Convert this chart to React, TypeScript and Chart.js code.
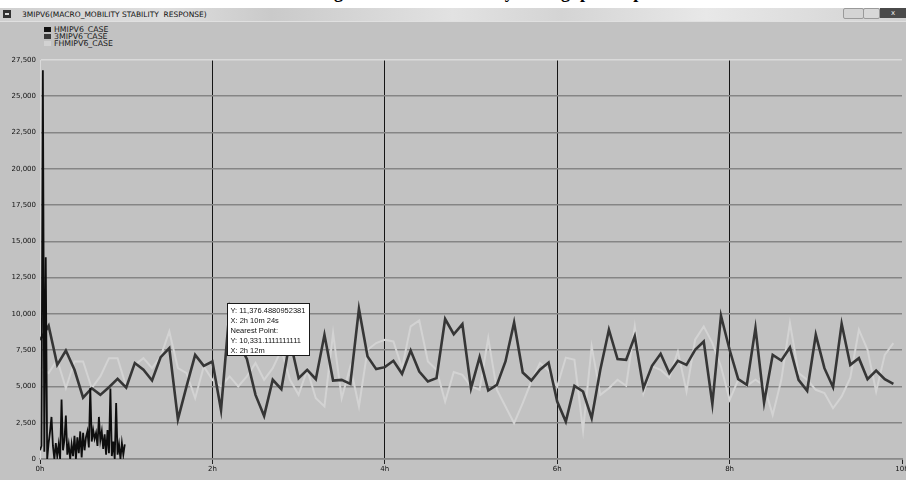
import React, { useEffect, useRef } from "react";
import { Chart, registerables } from "chart.js";

Chart.register(...registerables);

// ---- data ----
const seriesNames = ["HMIPV6_CASE", "3MIPV6_CASE", "FHMIPV6_CASE"];
const windowTitle = "3MIPV6(MACRO_MOBILITY STABILITY  RESPONSE)";
const captionText = "Figure 6: Macro Mobility throughput response";

// 3MIPV6 / FHMIPV6 sampled every 0.1 h (6 min), from 0h to 9.9h
const sampleStepHours = 0.1;
const mipv6Values = [
  8200, 9185, 6490, 7480, 6150, 4230, 4880, 4420, 4950, 5525,
  4925, 6610, 6150, 5410, 7020, 7640, 2740, 5000, 7180, 6420,
  6720, 3380, 10331, 8000, 6900, 4420, 2970, 5460, 4810, 8200,
  5570, 6150, 5500, 8560, 5410, 5455, 5180, 10340, 7065, 6195,
  6330, 6770, 5870, 7480, 6030, 5340, 5570, 9650, 8600, 9300,
  4880, 7020, 4720, 5110, 6720, 9410, 5960, 5410, 6150, 6650,
  3960, 2580, 5040, 4650, 2810, 6150, 8910, 6885, 6840, 8450,
  4880, 6420, 7250, 5920, 6770, 6490, 7530, 8100, 3800, 9875,
  7530, 5500, 5110, 9020, 3890, 7180, 6790, 7690, 5455, 4700,
  8560, 6260, 4950, 9320, 6490, 6950, 5500, 6100, 5500, 5180,
];
const fhmipv6Values = [
  6260, 5920, 6840, 4880, 6720, 6720, 4880, 5690, 6950, 6950,
  5000, 6490, 6950, 6260, 7070, 8790, 6260, 5920, 4190, 6380,
  5460, 5000, 5690, 5000, 5690, 6610, 5460, 6260, 7530, 5460,
  4420, 6150, 4190, 3620, 8680, 4190, 6380, 3620, 7530, 7990,
  8220, 8100, 6260, 9140, 9550, 6720, 6150, 3960, 6000, 5800,
  5000, 4770, 8330, 4770, 3620, 2470, 3850, 5340, 6610, 6100,
  5000, 6990, 6840, 1960, 7760, 4420, 4880, 5460, 5050, 9140,
  4540, 6380, 6150, 5600, 7410, 4650, 8220, 9140, 7990, 6380,
  4080, 5460, 5050, 5460, 5050, 3040, 5460, 9370, 5920, 5460,
  4770, 4540, 3500, 4310, 5580, 8910, 7530, 4650, 7180, 7990,
];
// HMIPV6 sampled every minute, 0 .. 59 min
const hmStepHours = 1 / 60;
const hmipv6Values = [
  600, 900, 26800, 500, 13900, 0, 1100, 1900, 2900, 900,
  0, 1100, 200, 1000, 0, 4100, 600, 1300, 3000, 300,
  1000, 0, 1000, 200, 1600, 0, 1500, 400, 1900, 100,
  1800, 600, 1500, 1900, 800, 4900, 1200, 2000, 1400, 1800,
  900, 2900, 1300, 1900, 700, 1700, 300, 2000, 400, 4850,
  200, 1200, 0, 3850, 300, 1000, 0, 1100, 300, 1000,
];

const xMin = 0;
const xMax = 10;
const xStep = 2;
const yMin = 0;
const yMax = 27500;
const yStep = 2500;

// hover read-out shown in the screenshot
const cursorHours = 2 + 10 / 60 + 24 / 3600;
const cursorValue = 11376.4880952381;
const readoutLines = [
  "Y: 11,376.4880952381",
  "X: 2h 10m 24s",
  "Nearest Point:",
  "Y: 10,331.1111111111",
  "X: 2h 12m",
];

const toPoints = (vals: number[], step: number) =>
  vals.map((v, i) => ({ x: +(i * step).toFixed(5), y: v }));

const FONT = "'DejaVu Sans', Verdana, sans-serif";
const NARROW = "'Liberation Sans', Arial, sans-serif";

const readoutPlugin = {
  id: "readout",
  afterDatasetsDraw(chart: any) {
    const { ctx, scales } = chart;
    const left = Math.round(scales.x.getPixelForValue(cursorHours)) + 0.5;
    const top = Math.round(scales.y.getPixelForValue(cursorValue) + 9) + 0.5;
    const w = 82;
    const h = 52;
    ctx.save();
    ctx.fillStyle = "#ffffff";
    ctx.fillRect(left, top, w, h);
    ctx.strokeStyle = "#1a1a1a";
    ctx.lineWidth = 1;
    ctx.strokeRect(left, top, w, h);
    ctx.fillStyle = "#111";
    ctx.font = `7.5px ${NARROW}`;
    ctx.textBaseline = "middle";
    readoutLines.forEach((t, i) => {
      ctx.fillText(t, left + 3, top + 7 + i * 10);
    });
    ctx.restore();
  },
};

export default function App() {
  const canvasRef = useRef<HTMLCanvasElement | null>(null);

  useEffect(() => {
    if (!canvasRef.current) return;
    const chart = new Chart(canvasRef.current, {
      type: "line",
      data: {
        datasets: [
          {
            label: seriesNames[0],
            data: toPoints(hmipv6Values, hmStepHours),
            borderColor: "#0e0e0e",
            borderWidth: 1.8,
            pointRadius: 0,
            tension: 0,
          },
          {
            label: seriesNames[1],
            data: toPoints(mipv6Values, sampleStepHours),
            borderColor: "#363636",
            borderWidth: 2.6,
            pointRadius: 0,
            tension: 0,
          },
          {
            label: seriesNames[2],
            data: toPoints(fhmipv6Values, sampleStepHours),
            borderColor: "#d3d3d3",
            borderWidth: 2,
            pointRadius: 0,
            tension: 0,
          },
        ],
      },
      options: {
        responsive: false,
        animation: false,
        events: [],
        layout: { padding: { top: 60, right: 28, left: 0, bottom: 0 } },
        plugins: {
          legend: { display: false },
          tooltip: { enabled: false },
          title: { display: false },
        },
        scales: {
          x: {
            type: "linear",
            min: xMin,
            max: xMax,
            afterFit: (s: any) => {
              s.height = 21;
            },
            ticks: {
              stepSize: xStep,
              autoSkip: false,
              maxRotation: 0,
              padding: 1,
              color: "#111",
              font: { size: 7, family: FONT },
              callback: (v: any) => `${v}h`,
            },
            grid: {
              color: (c: any) =>
                c.tick && (c.tick.value === xMin || c.tick.value === xMax)
                  ? "rgba(0,0,0,0)"
                  : "#151515",
              lineWidth: 1,
              drawTicks: true,
              tickLength: 5,
              tickColor: "#222",
            },
            border: { display: true, color: "#8a8a8a", width: 1.5 },
          },
          y: {
            min: yMin,
            max: yMax,
            afterFit: (s: any) => {
              s.width = 40;
            },
            ticks: {
              stepSize: yStep,
              padding: 4,
              color: "#111",
              font: { size: 7, family: FONT },
              callback: (v: any) => Number(v).toLocaleString("en-US"),
            },
            grid: {
              color: (c: any) =>
                c.tick && c.tick.value === yMax ? "#dadada" : "#858585",
              lineWidth: 1.6,
              drawTicks: false,
            },
            border: { display: true, color: "#dadada", width: 1 },
          },
        },
      },
      plugins: [readoutPlugin],
    });
    return () => chart.destroy();
  }, []);

  const swatches = ["#111111", "#3a3a3a", "#d2d2d2"];

  return (
    <div
      style={{
        position: "fixed",
        left: 0,
        top: 0,
        width: 906,
        height: 480,
        overflow: "hidden",
        background: "#c2c2c2",
        fontFamily: FONT,
      }}
    >
      {/* caption strip (cut off) */}
      <div
        style={{
          position: "absolute",
          left: 0,
          top: 0,
          width: 906,
          height: 8,
          background: "#ffffff",
          overflow: "hidden",
        }}
      >
        <div
          style={{
            position: "absolute",
            left: 318,
            top: -17,
            whiteSpace: "nowrap",
            fontFamily: "'Liberation Serif', 'Times New Roman', serif",
            fontWeight: "bold",
            fontSize: 18,
            lineHeight: "18px",
            color: "#000",
          }}
        >
          {captionText}
        </div>
      </div>
      {/* window title bar */}
      <div
        style={{
          position: "absolute",
          left: 0,
          top: 8,
          width: 906,
          height: 13,
          background:
            "linear-gradient(90deg, #cfcfcf 0%, #dedede 18%, #cacaca 30%, #e2e2e2 50%, #d4d4d4 62%, #e8e8e8 78%, #d2d2d2 100%)",
          borderBottom: "1px solid #e0e0e0",
        }}
      >
        <div
          style={{
            position: "absolute",
            left: 3,
            top: 2,
            width: 8,
            height: 8,
            background: "#333",
          }}
        >
          <div
            style={{
              position: "absolute",
              left: 2,
              top: 3,
              width: 4,
              height: 2,
              background: "#ddd",
            }}
          />
        </div>
        <div
          style={{
            position: "absolute",
            left: 22,
            top: 0,
            height: 13,
            lineHeight: "13px",
            fontSize: 7.5,
            color: "#111",
            whiteSpace: "pre",
          }}
        >
          {windowTitle}
        </div>
        <div
          style={{
            position: "absolute",
            left: 843,
            top: 0,
            width: 19,
            height: 9,
            background: "#d4d4d4",
            border: "1px solid #9a9a9a",
            borderRadius: 2,
          }}
        />
        <div
          style={{
            position: "absolute",
            left: 863,
            top: 0,
            width: 15,
            height: 9,
            background: "#d8d8d8",
            border: "1px solid #9a9a9a",
            borderRadius: 2,
          }}
        />
        <div
          style={{
            position: "absolute",
            left: 880,
            top: 0,
            width: 26,
            height: 10,
            background: "#4a4a4a",
            color: "#eee",
            fontSize: 7,
            lineHeight: "10px",
            textAlign: "center",
          }}
        >
          x
        </div>
      </div>
      {/* legend */}
      <div style={{ position: "absolute", left: 44, top: 26 }}>
        {seriesNames.map((n, i) => (
          <div
            key={n}
            style={{
              display: "flex",
              alignItems: "center",
              height: 7,
              fontSize: 7.8,
              lineHeight: "7px",
              color: "#1a1a1a",
            }}
          >
            <span
              style={{
                display: "inline-block",
                width: 7,
                height: 5,
                marginRight: 3,
                background: swatches[i],
              }}
            />
            {n}
          </div>
        ))}
      </div>
      <canvas
        ref={canvasRef}
        width={930}
        height={480}
        style={{ position: "absolute", left: 0, top: 0, width: 930, height: 480 }}
      />
    </div>
  );
}
